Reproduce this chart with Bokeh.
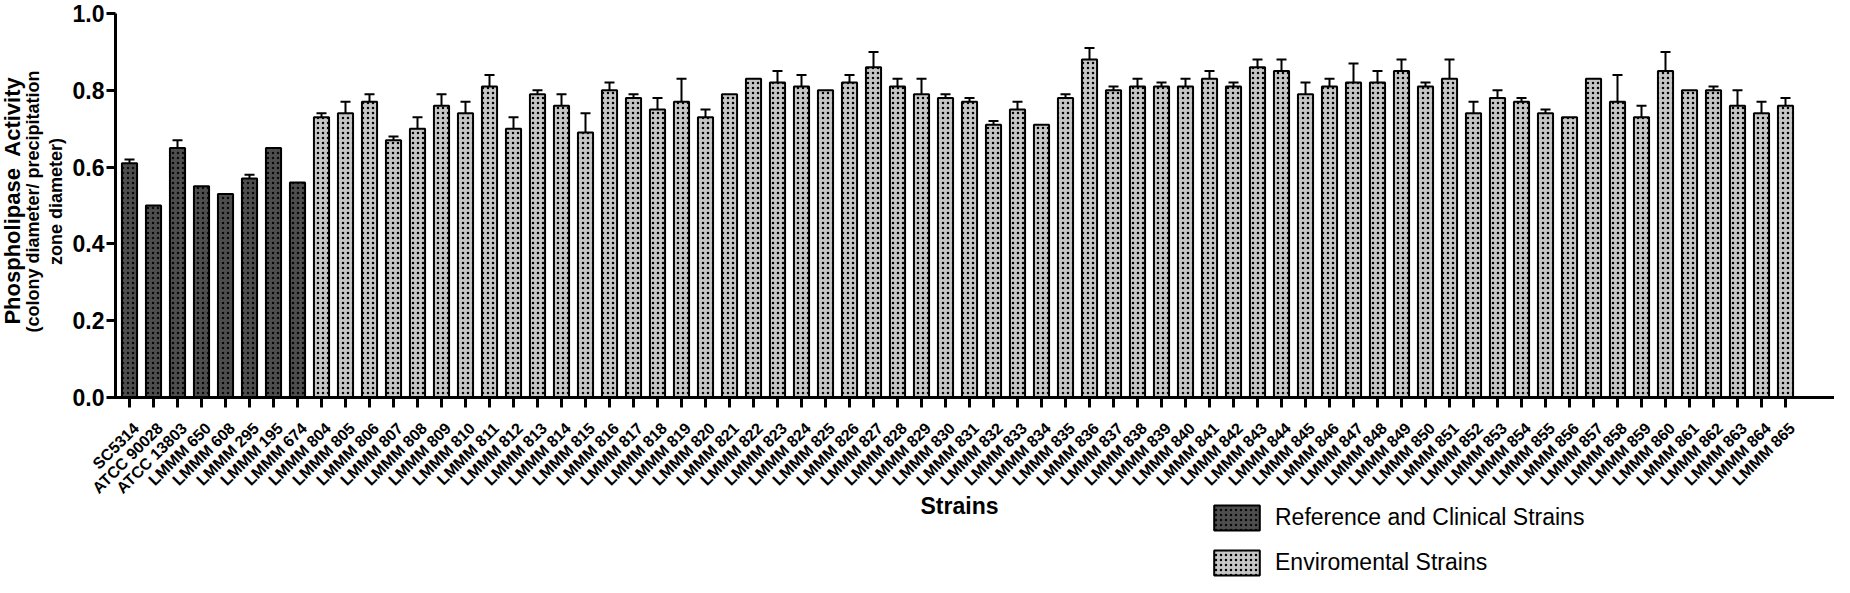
from math import pi
from bokeh.plotting import figure
from bokeh.models import (Range1d, FixedTicker, ColumnDataSource, Whisker, TeeHead,
                          Label, Legend, LegendItem, NumeralTickFormatter, LinearAxis)
from bokeh.embed import file_html
from bokeh.resources import INLINE

# ---------------- data ----------------
ref_names = ["SC5314", "ATCC 90028", "ATCC 13803", "LMMM 650", "LMMM 608",
             "LMMM 295", "LMMM 195", "LMMM 674"]
ref_vals = [0.61, 0.50, 0.65, 0.55, 0.53, 0.57, 0.65, 0.56]
ref_err = [0.01, 0.0, 0.02, 0.0, 0.0, 0.01, 0.0, 0.0]

env_names = ["LMMM %d" % n for n in range(804, 866)]
env_vals = [0.73, 0.74, 0.77, 0.67, 0.70, 0.76, 0.74, 0.81, 0.70, 0.79,
            0.76, 0.69, 0.80, 0.78, 0.75, 0.77, 0.73, 0.79, 0.83, 0.82,
            0.81, 0.80, 0.82, 0.86, 0.81, 0.79, 0.78, 0.77, 0.71, 0.75,
            0.71, 0.78, 0.88, 0.80, 0.81, 0.81, 0.81, 0.83, 0.81, 0.86,
            0.85, 0.79, 0.81, 0.82, 0.82, 0.85, 0.81, 0.83, 0.74, 0.78,
            0.77, 0.74, 0.73, 0.83, 0.77, 0.73, 0.85, 0.80, 0.80, 0.76,
            0.74, 0.76]
env_err = [0.01, 0.03, 0.02, 0.01, 0.03, 0.03, 0.03, 0.03, 0.03, 0.01,
           0.03, 0.05, 0.02, 0.01, 0.03, 0.06, 0.02, 0.0, 0.0, 0.03,
           0.03, 0.0, 0.02, 0.04, 0.02, 0.04, 0.01, 0.01, 0.01, 0.02,
           0.0, 0.01, 0.03, 0.01, 0.02, 0.01, 0.02, 0.02, 0.01, 0.02,
           0.03, 0.03, 0.02, 0.05, 0.03, 0.03, 0.01, 0.05, 0.03, 0.02,
           0.01, 0.01, 0.0, 0.0, 0.07, 0.03, 0.05, 0.0, 0.01, 0.04,
           0.03, 0.02]

categories = ref_names + env_names
y_ticks = [0.0, 0.2, 0.4, 0.6, 0.8, 1.0]

# ---------------- geometry (canvas px) ----------------
W, H = 1834, 577
STEP = 24.0          # px per category
X_FIRST = 129        # canvas px of first bar centre
Y_TOP, Y_ZERO = 13, 397   # canvas px of value 1.0 and 0.0
YPX = Y_ZERO - Y_TOP
LABEL_SHIFT = 0.28   # tick-label offset (category units)

x_start = -X_FIRST / STEP
x_end = x_start + W / STEP
y_end = 1.0 + Y_TOP / YPX
y_start = -(H - Y_ZERO) / YPX

def dx(cx):
    return x_start + cx / STEP

def dy(cy):
    return (Y_ZERO - cy) / YPX

FONT = "Liberation Sans"

p = figure(width=W, height=H, x_range=Range1d(x_start, x_end), y_range=Range1d(y_start, y_end),
           min_border=0, output_backend="svg", toolbar_location=None)
p.extra_x_ranges = {"lab": Range1d(x_start - LABEL_SHIFT, x_end - LABEL_SHIFT)}
p.outline_line_color = None
p.xgrid.visible = False
p.ygrid.visible = False
p.background_fill_color = "white"
p.border_fill_color = "white"

n_ref = len(ref_names)
src_ref = ColumnDataSource(dict(x=list(range(n_ref)), top=ref_vals))
src_env = ColumnDataSource(dict(x=list(range(n_ref, len(categories))), top=env_vals))

r_ref = p.vbar(x="x", top="top", width=0.63, source=src_ref, fill_color="#4e4e4e",
               line_color="black", line_width=2, hatch_pattern="dot",
               hatch_color="#080808", hatch_scale=5)
r_env = p.vbar(x="x", top="top", width=0.63, source=src_env, fill_color="#c6c6c6",
               line_color="black", line_width=2, hatch_pattern="dot",
               hatch_color="#000000", hatch_scale=5)

all_vals = ref_vals + env_vals
all_err = ref_err + env_err
wx, wl, wu = [], [], []
for i, (v, e) in enumerate(zip(all_vals, all_err)):
    if e > 0:
        wx.append(i); wl.append(v); wu.append(v + e)
src_w = ColumnDataSource(dict(x=wx, lower=wl, upper=wu))
p.add_layout(Whisker(source=src_w, base="x", lower="lower", upper="upper", dimension="height",
                     line_color="black", line_width=2,
                     upper_head=TeeHead(size=10, line_width=2, line_color="black"),
                     lower_head=None))

# x axis: line + ticks at bar centres
xa = p.xaxis[0]
xa.fixed_location = 0
xa.bounds = (dx(107), x_end)
xa.ticker = FixedTicker(ticks=list(range(len(categories))))
xa.major_label_overrides = {i: "" for i in range(len(categories))}
xa.major_tick_out = 10
xa.major_tick_in = 0
xa.major_tick_line_width = 3
xa.minor_tick_line_color = None
xa.axis_line_width = 3

# x tick labels, slightly offset to the right like the original
xl = LinearAxis(x_range_name="lab", fixed_location=0,
                ticker=FixedTicker(ticks=list(range(len(categories)))),
                major_label_overrides={i: c for i, c in enumerate(categories)},
                major_label_orientation=pi / 4, major_label_text_font=FONT,
                major_label_text_font_style="bold", major_label_text_font_size="16px",
                major_label_text_color="black", major_label_standoff=18,
                major_tick_out=10, major_tick_in=0, major_tick_line_color=None,
                minor_tick_line_color=None, axis_line_color=None)
p.add_layout(xl, "below")

ya = p.yaxis[0]
ya.fixed_location = dx(115)
ya.bounds = (0, 1.0)
ya.ticker = FixedTicker(ticks=y_ticks)
ya.formatter = NumeralTickFormatter(format="0.0")
ya.major_label_text_font = FONT
ya.major_label_text_font_style = "bold"
ya.major_label_text_font_size = "23px"
ya.major_label_text_color = "black"
ya.major_tick_out = 9
ya.major_tick_in = 0
ya.major_tick_line_width = 3
ya.minor_tick_line_color = None
ya.axis_line_width = 3
ya.major_label_standoff = 2

# y-axis titles
def vlabel(cx, cy, text, size):
    p.add_layout(Label(x=dx(cx), y=dy(cy), text=text, angle=pi / 2,
                       text_align="center", text_baseline="middle", text_font=FONT,
                       text_font_style="bold", text_font_size=size, text_color="black"))

vlabel(12, 200, "Phospholipase\u00a0 Activity", "22px")
vlabel(32, 201, "(colony diameter/ precipitation", "18px")
vlabel(55, 201, "zone diameter)", "18px")

# x-axis title
p.add_layout(Label(x=dx(959), y=dy(505), text="Strains", text_align="center",
                   text_baseline="middle", text_font=FONT, text_font_style="bold",
                   text_font_size="23px", text_color="black"))

legend = Legend(items=[LegendItem(label="Reference and Clinical Strains", renderers=[r_ref]),
                       LegendItem(label="Enviromental Strains", renderers=[r_env])],
                location=(1208, -1), orientation="vertical",
                glyph_width=57, glyph_height=31, spacing=14, padding=0, margin=0,
                label_standoff=10, label_text_font=FONT, label_text_font_size="23px",
                label_text_color="black", border_line_color=None, background_fill_alpha=0)
p.add_layout(legend, "center")

open("out.html", "w").write(file_html(p, INLINE))
